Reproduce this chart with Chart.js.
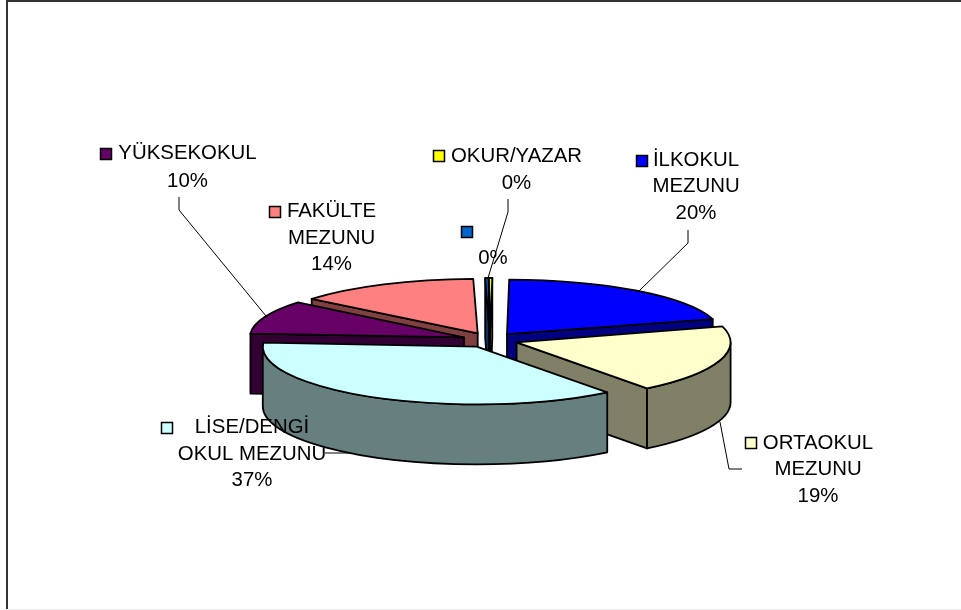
<!DOCTYPE html>
<html>
<head>
<meta charset="utf-8">
<style>html,body{margin:0;padding:0;background:#fff;overflow:hidden}canvas{display:block}</style>
<script src="https://cdn.jsdelivr.net/npm/chart.js@4"></script>
</head>
<body>
<canvas id="c" width="961" height="610"></canvas>
<script>
// Data
const categories = ["İLKOKUL MEZUNU", "ORTAOKUL MEZUNU", "LİSE/DENGİ OKUL MEZUNU", "YÜKSEKOKUL", "FAKÜLTE MEZUNU", "", "OKUR/YAZAR"];
const values = [20.4, 19.0, 36.5, 9.8, 13.8, 0.25, 0.25];

// Styles
const topColors = ["#0000FF", "#FFFFCC", "#CCFFFF", "#660066", "#FF8080", "#0066CC", "#FFFF00"];
const wallColors = ["#000080", "#808066", "#668080", "#330033", "#804040", "#003366", "#808000"];
const paintOrder = [5, 6, 4, 0, 3, 1, 2];
// the reference has a slight perspective: front slices look a little deeper than back ones
const sliceSquash = [0.255, 0.272, 0.27, 0.258, 0.255, 0.255, 0.255];
const depth = 60, explode = 28, rotationDeg = 0.6;
const font = '20.4px "Liberation Sans", Arial, sans-serif';

// Label layout: text lines (percent appended from the data), centre x, line centre y, key square, leader line
const labelLines = [["İLKOKUL", "MEZUNU"], ["ORTAOKUL", "MEZUNU"], ["LİSE/DENGİ", "OKUL MEZUNU"], ["YÜKSEKOKUL"], ["FAKÜLTE", "MEZUNU"], [""], ["OKUR/YAZAR"]];
const labelX = [696, 818, 252, 187.5, 331.5, 493, 516.5];
const labelY = [[159, 185, 212], [442, 468, 495], [426, 453, 479], [152, 180], [210, 237, 263], [232, 257], [155, 182]];
const keyPos = [[642, 161], [751, 443], [167, 428], [106, 154], [275, 212], [467, 232], [439, 156]];
const leaders = [
  [[688, 230], [688, 243], [638, 292]],
  [[720, 422], [729, 469], [742, 469]],
  [[325, 453], [350, 453]],
  [[179, 197], [179, 210], [266, 316]],
  [],
  [],
  [[508, 199], [508, 212], [488, 278]]
];

const pie3d = {
  id: "pie3d",
  beforeDraw(chart) {
    const ctx = chart.ctx;
    ctx.save();
    ctx.fillStyle = "#fff";
    ctx.fillRect(0, 0, 961, 610);
    ctx.fillStyle = "#333";
    ctx.fillRect(6, 0, 955, 2);
    ctx.fillRect(6, 0, 2, 609);
    ctx.fillStyle = "#e8e8e8";
    ctx.fillRect(8, 609, 953, 1);
    ctx.restore();
  },
  beforeDatasetDraw(chart) {
    const ctx = chart.ctx;
    const arcs = chart.getDatasetMeta(0).data;
    const T = Math.PI * 2;
    ctx.save();
    ctx.lineWidth = 1.8;
    ctx.lineJoin = "round";
    ctx.strokeStyle = "#000";
    paintOrder.forEach(i => {
      const arc = arcs[i];
      const squash = sliceSquash[i];
      const a = arc.startAngle, b = arc.endAngle, r = arc.outerRadius;
      const mid = (a + b) / 2;
      const cx = arc.x + Math.cos(mid) * explode;
      const cy = arc.y + Math.sin(mid) * explode * 0.265;
      const pt = t => [cx + Math.cos(t) * r, cy + Math.sin(t) * r * squash];
      ctx.fillStyle = wallColors[i];
      // radial faces that look towards the viewer
      [[a, Math.cos(a) < 0], [b, Math.cos(b) > 0]].forEach(([t, vis]) => {
        if (!vis) return;
        const p = pt(t);
        ctx.beginPath();
        ctx.moveTo(cx, cy);
        ctx.lineTo(p[0], p[1]);
        ctx.lineTo(p[0], p[1] + depth);
        ctx.lineTo(cx, cy + depth);
        ctx.closePath();
        ctx.fill();
        ctx.stroke();
      });
      // outer rim, front half only (the front half is angle 0..PI, modulo a full turn)
      [-T, 0, T].forEach(shift => {
        const from = Math.max(a, shift), to = Math.min(b, shift + Math.PI);
        if (to <= from) return;
        ctx.beginPath();
        ctx.ellipse(cx, cy, r, r * squash, 0, from, to);
        ctx.ellipse(cx, cy + depth, r, r * squash, 0, to, from, true);
        ctx.closePath();
        ctx.fill();
        ctx.stroke();
      });
      // top face through the library's arc element
      ctx.save();
      ctx.translate(cx - arc.x, cy);
      ctx.scale(1, squash);
      ctx.translate(0, -arc.y);
      arc.draw(ctx);
      ctx.restore();
      ctx.beginPath();
      ctx.moveTo(cx, cy);
      ctx.ellipse(cx, cy, r, r * squash, 0, a, b);
      ctx.closePath();
      ctx.stroke();
    });
    ctx.restore();
    return false;
  },
  afterDatasetsDraw(chart) {
    const ctx = chart.ctx;
    const total = values.reduce((x, y) => x + y, 0);
    ctx.save();
    ctx.strokeStyle = "#000";
    ctx.lineWidth = 1;
    leaders.forEach(l => {
      if (!l.length) return;
      ctx.beginPath();
      l.forEach((p, j) => j ? ctx.lineTo(p[0], p[1]) : ctx.moveTo(p[0], p[1]));
      ctx.stroke();
    });
    ctx.font = font;
    ctx.fillStyle = "#000";
    ctx.textAlign = "center";
    ctx.textBaseline = "middle";
    categories.forEach((_, i) => {
      const pct = Math.round(values[i] / total * 100) + "%";
      const lines = labelLines[i].filter(t => t).concat(pct);
      const ys = labelY[i].slice(-lines.length);
      lines.forEach((t, j) => ctx.fillText(t, labelX[i], ys[j] + 1));
      const k = keyPos[i];
      ctx.fillStyle = topColors[i];
      ctx.fillRect(k[0] - 5.5, k[1] - 5.5, 11, 11);
      ctx.lineWidth = 1.5;
      ctx.strokeRect(k[0] - 5.5, k[1] - 5.5, 11, 11);
      ctx.fillStyle = "#000";
    });
    ctx.restore();
  }
};

new Chart(document.getElementById("c"), {
  type: "pie",
  data: {
    labels: categories,
    datasets: [{ data: values, backgroundColor: topColors, borderWidth: 0 }]
  },
  options: {
    responsive: false,
    animation: false,
    radius: 214,
    rotation: rotationDeg,
    layout: { padding: { left: 19, right: 0, top: 70, bottom: 0 } },
    plugins: { legend: { display: false }, tooltip: { enabled: false } }
  },
  plugins: [pie3d]
});
</script>
</body>
</html>
